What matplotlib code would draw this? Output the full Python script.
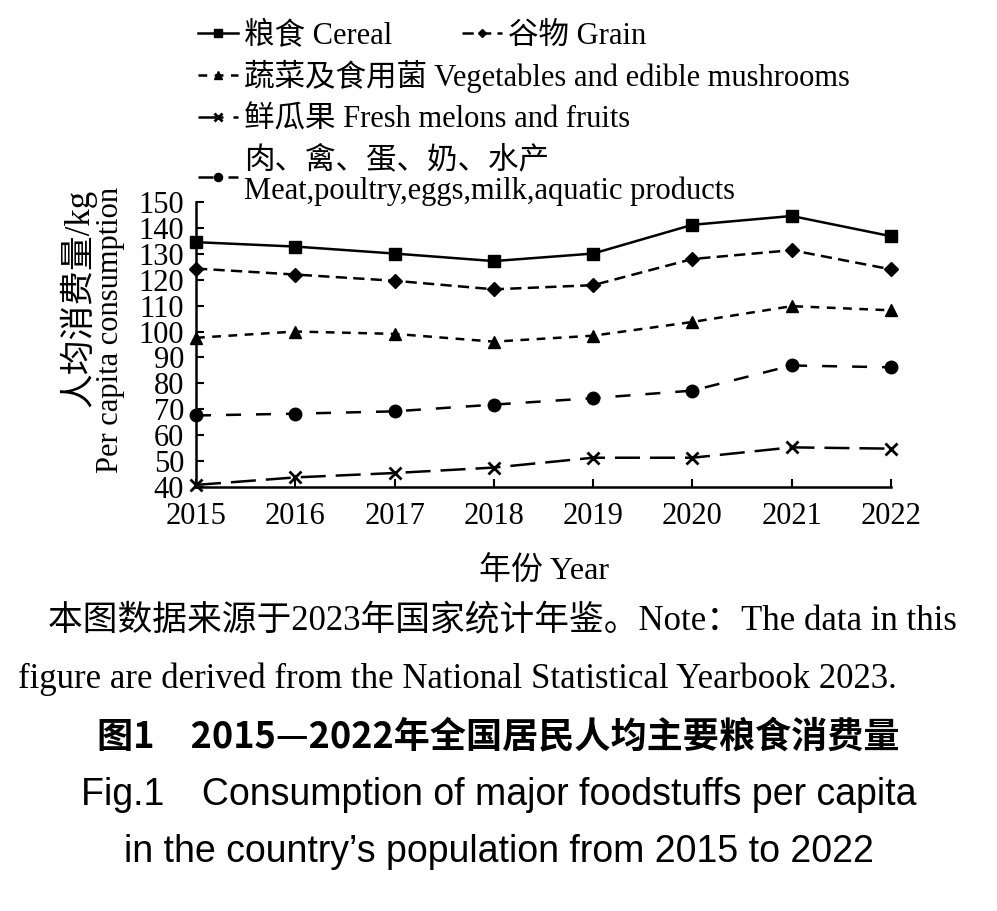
import matplotlib.pyplot as plt

years = [2015, 2016, 2017, 2018, 2019, 2020, 2021, 2022]
cereal = [134.5, 132.8, 130.1, 127.2, 130.1, 141.2, 144.6, 136.8]
grain = [124.3, 122.0, 119.6, 116.3, 117.9, 128.0, 131.4, 124.0]
veg = [97.6, 100.0, 99.1, 96.1, 98.4, 103.7, 109.8, 108.2]
fruit = [40.8, 43.7, 45.4, 47.5, 51.3, 51.3, 55.3, 54.8]
meat = [67.6, 68.3, 69.2, 71.8, 74.3, 77.2, 86.9, 86.2]
yticks = list(range(40, 151, 10))

lab_cereal = "粮食 Cereal"
lab_grain = "谷物 Grain"
lab_veg = "蔬菜及食用菌 Vegetables and edible mushrooms"
lab_fruit = "鲜瓜果 Fresh melons and fruits"
lab_meat = "肉、禽、蛋、奶、水产\nMeat,poultry,eggs,milk,aquatic products"

SERIF = ["Liberation Serif", "Noto Sans CJK SC"]
plt.rcParams["font.family"] = SERIF

fig = plt.figure(figsize=(9.97, 9.11), dpi=100)
ax = fig.add_axes([196 / 997, 1 - 487 / 911, 695 / 997, 285 / 911])

lw = 1.8
l1, = ax.plot(years, cereal, "k-", lw=lw, marker="s", ms=9, clip_on=False)
l2, = ax.plot(years, grain, color="k", lw=lw, ls=(0, (4.5, 2.5)), marker="D", ms=7, clip_on=False)
l3, = ax.plot(years, veg, color="k", lw=lw, ls=(0, (3.5, 3)), marker="^", ms=9, clip_on=False)
l4, = ax.plot(years, fruit, color="k", lw=lw, ls=(0, (10, 4)), marker="x", ms=8, mew=2, clip_on=False)
l5, = ax.plot(years, meat, color="k", lw=lw, ls=(0, (6, 6)), marker="o", ms=9, clip_on=False)

ax.set_xlim(2015, 2022)
ax.set_ylim(40, 150)
ax.set_xticks(years)
ax.set_yticks(yticks)
for s in ["top", "right"]:
    ax.spines[s].set_visible(False)
for s in ["left", "bottom"]:
    ax.spines[s].set_linewidth(1.8)
ax.tick_params(direction="in", length=6, width=1.5, labelsize=22)
ax.tick_params(axis="y", pad=8.5)
ax.tick_params(axis="x", pad=11)

ax.set_xlabel("年份 Year", fontsize=23)
ax.xaxis.set_label_coords(0.5, -0.245)
# two-line y label, both lines flush at the top
fig.text(78 / 997, 1 - 189 / 911, "人均消费量/kg", rotation=90,
         ha="center", va="top", fontsize=25)
fig.text(111 / 997, 1 - 187 / 911, "Per capita consumption", rotation=90,
         ha="center", va="top", fontsize=22)

leg_kw = dict(frameon=False, fontsize=22, handlelength=1.3, handletextpad=0.2,
              borderpad=0, borderaxespad=0, markerscale=0.65, loc="upper left")
leg1 = fig.legend([l1, l2], [lab_cereal, lab_grain], ncol=2, columnspacing=2.3,
                  bbox_to_anchor=(198 / 997, 1 - 22 / 911), **leg_kw)
leg2 = fig.legend([l3, l4, l5], [lab_veg, lab_fruit, lab_meat], ncol=1, labelspacing=0.4,
                  bbox_to_anchor=(198 / 997, 1 - 60 / 911), **leg_kw)
for t in leg2.get_texts():
    t.set_linespacing(1.05)

fig.text(48 / 997, 1 - 622 / 911, "本图数据来源于2023年国家统计年鉴。Note：The data in this",
         ha="left", va="center", fontsize=25)
fig.text(18 / 997, 1 - 679 / 911, "figure are derived from the National Statistical Yearbook 2023.",
         ha="left", va="center", fontsize=25)

fig.text(0.5, 1 - 737 / 911, "图1　2015—2022年全国居民人均主要粮食消费量",
         ha="center", va="center", fontsize=26, fontweight="bold", family=["Noto Sans CJK SC"])
fig.text(0.5, 1 - 795 / 911, "Fig.1　Consumption of major foodstuffs per capita",
         ha="center", va="center", fontsize=27, family=["Liberation Sans", "Noto Sans CJK SC"])
fig.text(0.5, 1 - 852 / 911, "in the country’s population from 2015 to 2022",
         ha="center", va="center", fontsize=27, family=["Liberation Sans", "Noto Sans CJK SC"])

fig.savefig("out.png", dpi=100)
